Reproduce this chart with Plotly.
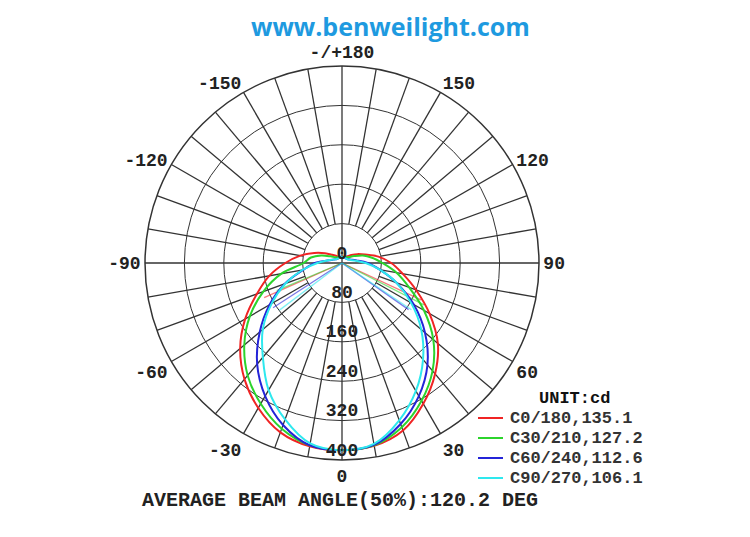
import plotly.graph_objects as go

# ---------------- data ----------------
gamma = list(range(0, 181, 10))  # vertical angle, degrees

c0   = [380, 377, 362, 330, 294, 254, 205, 160, 125, 100, 75, 50, 36, 25, 18, 15, 13, 12, 12]
c180 = [380, 378, 366, 340, 308, 270, 227, 184, 150, 115, 86, 60, 40, 26, 19, 15, 13, 12, 12]
c30  = [380, 376, 355, 323, 286, 242, 192, 145, 112, 82, 62, 45, 28, 19, 15, 13, 12, 12, 12]
c210 = [380, 376, 358, 330, 298, 259, 216, 170, 125, 78, 64, 45, 27, 18, 15, 14, 13, 12, 12]
c60  = [380, 375, 348, 312, 270, 220, 168, 118, 78, 52, 30, 20, 15, 13, 12, 12, 12, 12, 12]
c240 = [380, 376, 350, 312, 268, 218, 170, 124, 80, 55, 30, 20, 15, 13, 12, 12, 12, 12, 12]
c90  = [380, 373, 340, 300, 256, 210, 162, 118, 78, 48, 28, 18, 14, 13, 12, 12, 12, 12, 12]
c270 = [380, 372, 338, 298, 250, 210, 165, 122, 82, 50, 30, 20, 15, 13, 12, 12, 12, 12, 12]

plane_names = ["C0/180,135.1", "C30/210,127.2", "C60/240,112.6", "C90/270,106.1"]
plane_colors = ["#f02424", "#2cd42c", "#2424d8", "#2ee8ee"]

# faint radial strokes from the centre (angle, intensity) on each side
stroke_angle_right = [65, 63, 55, 56]
stroke_r_right = [177, 187, 165, 170]
stroke_angle_left = [66, 67, 57, 53]
stroke_r_left = [173, 144, 167, 159]

radial_ticks = [0, 80, 160, 240, 320, 400]
angle_tickvals = [0, 30, 60, 90, 120, 150, 180, 210, 240, 270, 300, 330]
angle_ticktext = ["0", "30", "60", "90", "120", "150", "-/+180",
                  "-150", "-120", "-90", "-60", "-30"]
spoke_step = 10
r_max = 400

title_text = "www.benweilight.com"
beam_text = "AVERAGE BEAM ANGLE(50%):120.2 DEG"
unit_text = "UNIT:cd"

# ---------------- figure ----------------
GRID = "#333333"
MONO = "Liberation Mono, Courier New, monospace"
W, H = 750, 537

fig = go.Figure()

# spokes (every 10 deg from inner circle, main axes through centre)
sp_t, sp_r = [], []
for a in range(0, 360, spoke_step):
    start = 0 if a % 90 == 0 else radial_ticks[1]
    sp_t += [a, a, None]
    sp_r += [start, r_max, None]
fig.add_trace(go.Scatterpolar(theta=sp_t, r=sp_r, mode="lines",
                              line=dict(color=GRID, width=1.3),
                              hoverinfo="skip", showlegend=False))

planes = [(c0, c180), (c30, c210), (c60, c240), (c90, c270)]

# faint strokes
for i, col in enumerate(plane_colors):
    fig.add_trace(go.Scatterpolar(
        theta=[stroke_angle_right[i], stroke_angle_right[i], None,
               -stroke_angle_left[i], -stroke_angle_left[i]],
        r=[0, stroke_r_right[i], None, 0, stroke_r_left[i]],
        mode="lines", line=dict(color=col, width=1.3), opacity=0.6,
        hoverinfo="skip", showlegend=False))

for (right, left), name, col in zip(planes, plane_names, plane_colors):
    theta = [-g for g in reversed(gamma)] + gamma[1:]
    r = list(reversed(left)) + right[1:]
    fig.add_trace(go.Scatterpolar(theta=theta, r=r, mode="lines", name=name,
                                  line=dict(color=col, width=2, shape="spline", smoothing=1),
                                  showlegend=False))

# radial labels along the 0 direction
fig.add_trace(go.Scatterpolar(theta=[0] * len(radial_ticks), r=radial_ticks,
                              mode="text", text=[str(v) for v in radial_ticks],
                              textposition="top center",
                              textfont=dict(family=MONO, size=18, color="#222222", weight="bold"),
                              hoverinfo="skip", showlegend=False))

# legend (drawn as keys + labels so the row spacing matches)
leg_x0, leg_x1, leg_text_x = 478, 503, 508
leg_row0, leg_dy = 418, 20
shapes, annotations = [], []
for i, (name, col) in enumerate(zip(plane_names, plane_colors)):
    yy = leg_row0 + i * leg_dy
    shapes.append(dict(type="line", xref="paper", yref="paper",
                       x0=leg_x0 / W, x1=leg_x1 / W, y0=(H - yy) / H, y1=(H - yy) / H,
                       line=dict(color=col, width=2)))
    annotations.append(dict(text=name, x=leg_text_x / W, y=(H - yy) / H,
                            xref="paper", yref="paper", showarrow=False,
                            xanchor="left", yanchor="middle",
                            font=dict(family=MONO, size=17, color="#333333", weight="bold")))
annotations.append(dict(text=unit_text, x=574 / W, y=(H - 399) / H, xref="paper", yref="paper",
                        showarrow=False, xanchor="center", yanchor="middle",
                        font=dict(family=MONO, size=17, color="#111111", weight="bold")))
annotations.append(dict(text=title_text, x=390 / W, y=(H - 26) / H, xref="paper", yref="paper",
                        showarrow=False, xanchor="center", yanchor="middle",
                        font=dict(family="Open Sans", size=25, color="#1e9ae0", weight="bold")))
annotations.append(dict(text=beam_text, x=340 / W, y=(H - 500) / H, xref="paper", yref="paper",
                        showarrow=False, xanchor="center", yanchor="middle",
                        font=dict(family=MONO, size=20, color="#222222", weight="bold")))

cx, cy, R = 342, 263, 197
fig.update_layout(
    width=W, height=H,
    margin=dict(l=0, r=0, t=0, b=0),
    paper_bgcolor="white", plot_bgcolor="white",
    polar=dict(
        domain=dict(x=[(cx - R) / W, (cx + R) / W],
                    y=[(H - cy - R) / H, (H - cy + R) / H]),
        bgcolor="white",
        radialaxis=dict(range=[0, r_max], tickvals=radial_ticks[1:], showticklabels=False,
                        ticks="", showline=False, gridcolor=GRID, gridwidth=1.3),
        angularaxis=dict(rotation=-90, direction="counterclockwise",
                         tickmode="array", tickvals=angle_tickvals, ticktext=angle_ticktext,
                         showgrid=False, ticks="", showline=True, linecolor=GRID, linewidth=1.5,
                         tickfont=dict(family=MONO, size=18, color="#222222", weight="bold")),
    ),
    showlegend=False,
    shapes=shapes,
    annotations=annotations,
)

fig.write_html("out.html", config={"displayModeBar": False},
               post_script="document.body.style.margin='0px';")
